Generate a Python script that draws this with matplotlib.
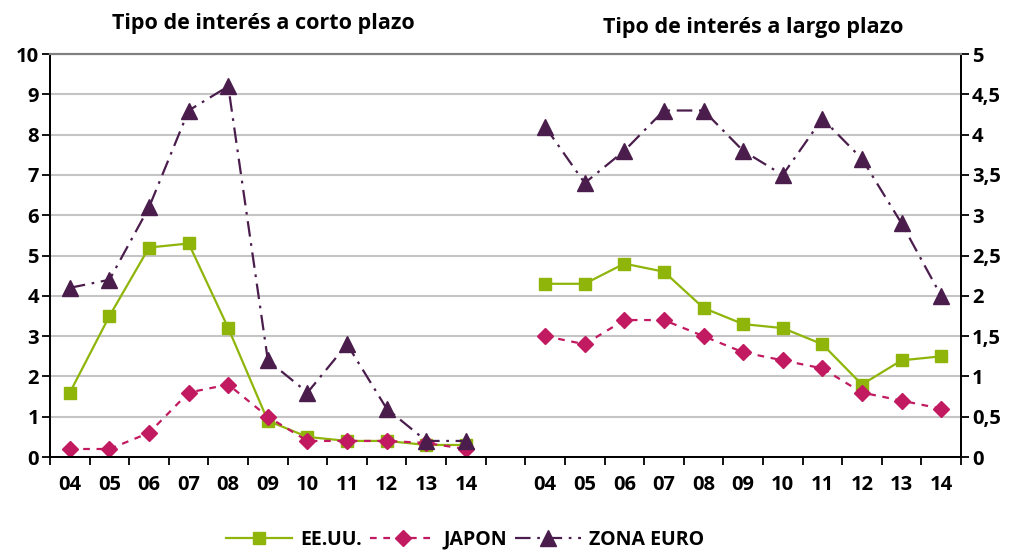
import matplotlib
matplotlib.use("Agg")
import matplotlib.pyplot as plt
from matplotlib.ticker import MultipleLocator, FixedLocator, FuncFormatter

plt.rcParams['font.family'] = ['Open Sans', 'DejaVu Sans']

anos = ['04', '05', '06', '07', '08', '09', '10', '11', '12', '13', '14']

# corto plazo (eje izquierdo, 0-10)
eeuu_corto = [1.6, 3.5, 5.2, 5.3, 3.2, 0.9, 0.5, 0.4, 0.4, 0.3, 0.3]
japon_corto = [0.2, 0.2, 0.6, 1.6, 1.8, 1.0, 0.4, 0.4, 0.4, 0.35, 0.2]
euro_corto = [4.2, 4.4, 6.2, 8.6, 9.2, 2.4, 1.6, 2.8, 1.2, 0.4, 0.4]

# largo plazo (eje derecho, 0-5)
eeuu_largo = [2.15, 2.15, 2.4, 2.3, 1.85, 1.65, 1.6, 1.4, 0.9, 1.2, 1.25]
japon_largo = [1.5, 1.4, 1.7, 1.7, 1.5, 1.3, 1.2, 1.1, 0.8, 0.7, 0.6]
euro_largo = [4.1, 3.4, 3.8, 4.3, 4.3, 3.8, 3.5, 4.2, 3.7, 2.9, 2.0]

etiquetas = anos + [''] + anos

verde = '#8fb50a'
rosa = '#c21a60'
morado = '#4a1d4c'

x_corto = list(range(len(anos)))
x_largo = [i + len(anos) + 1 for i in range(len(anos))]

fig = plt.figure(figsize=(10.11, 5.52), dpi=100)
ax = fig.add_axes([0.0495, 0.172, 0.901, 0.730])
ax2 = ax.twinx()

estilo_jap = (0, (3, 3))
estilo_euro = (0, (7, 3, 1.2, 3))

ax.plot(x_corto, eeuu_corto, color=verde, lw=1.6, marker='s', ms=9, label='EE.UU.')
ax.plot(x_corto, japon_corto, color=rosa, lw=1.6, ls=estilo_jap, marker='D', ms=8, label='JAPON')
ax.plot(x_corto, euro_corto, color=morado, lw=1.6, ls=estilo_euro, marker='^', ms=11, label='ZONA EURO')

ax2.plot(x_largo, eeuu_largo, color=verde, lw=1.6, marker='s', ms=9)
ax2.plot(x_largo, japon_largo, color=rosa, lw=1.6, ls=estilo_jap, marker='D', ms=8)
ax2.plot(x_largo, euro_largo, color=morado, lw=1.6, ls=estilo_euro, marker='^', ms=11)

n = len(etiquetas)
ax.set_xlim(-0.5, n - 0.5)
ax.set_ylim(0, 10)
ax2.set_ylim(0, 5)

ax.xaxis.set_major_locator(FixedLocator([i - 0.5 for i in range(n + 1)]))
ax.xaxis.set_major_formatter(FuncFormatter(lambda v, p: ''))
ax.xaxis.set_minor_locator(FixedLocator(list(range(n))))
ax.set_xticklabels(etiquetas, minor=True)
ax.tick_params(axis='x', which='major', direction='out', length=6, width=1.3, color='black')
ax.tick_params(axis='x', which='minor', length=0, pad=13, labelsize=14.5)

ax.yaxis.set_major_locator(MultipleLocator(1))
ax.tick_params(axis='y', direction='out', length=6, width=1.3, labelsize=14.5, pad=2)
ax2.yaxis.set_major_locator(MultipleLocator(0.5))
ax2.yaxis.set_major_formatter(FuncFormatter(lambda v, p: ('%g' % v).replace('.', ',')))
ax2.tick_params(axis='y', direction='out', length=6, width=1.3, labelsize=14.5, pad=2)

for lab in ax.get_xticklabels(minor=True) + ax.get_yticklabels() + ax2.get_yticklabels():
    lab.set_fontweight('bold')

ax.yaxis.grid(True, color='#c4c4c4', lw=1.5)
ax.set_axisbelow(True)

for a in (ax, ax2):
    a.spines['left'].set_linewidth(1.3)
    a.spines['right'].set_linewidth(1.3)
    a.spines['bottom'].set_linewidth(1.3)
    a.spines['top'].set_color('#808080')
    a.spines['top'].set_linewidth(1.5)

fig.text(0.261, 0.958, 'Tipo de interés a corto plazo', ha='center', va='center',
         fontsize=15.5, fontweight='bold')
fig.text(0.745, 0.950, 'Tipo de interés a largo plazo', ha='center', va='center',
         fontsize=15.5, fontweight='bold')

leg = fig.legend(loc='center', bbox_to_anchor=(0.46, 0.022), ncol=3, frameon=False,
                 handlelength=3.4, columnspacing=0.4, handletextpad=0.4,
                 prop={'weight': 'bold', 'size': 14})

fig.savefig('out.png', dpi=100)
